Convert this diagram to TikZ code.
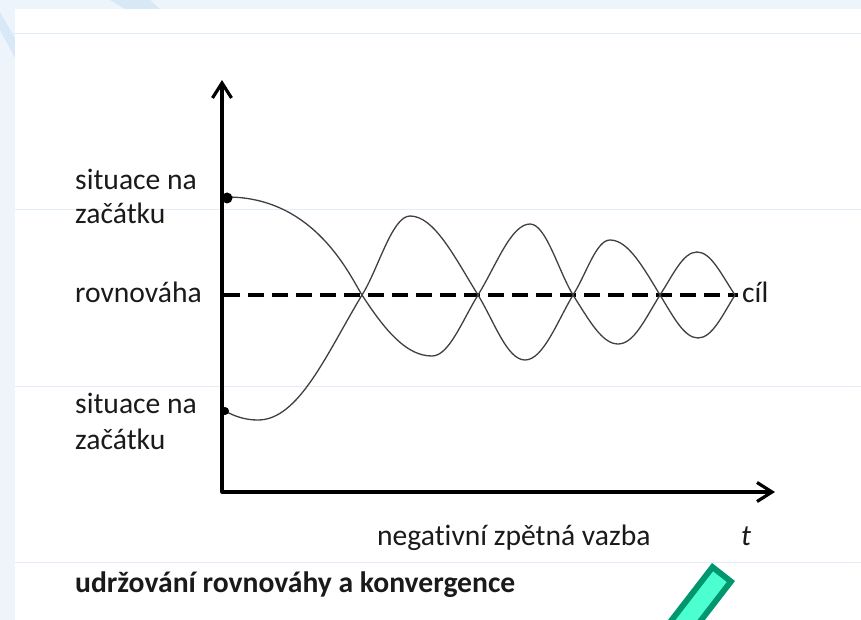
\documentclass[tikz,border=0pt]{standalone}
\usepackage{fontspec}
\setmainfont{Carlito}[Ligatures={NoCommon}]
\usetikzlibrary{arrows.meta}
\definecolor{bgblue}{HTML}{EDF4FC}
\definecolor{bgstreak}{HTML}{D9E8F6}
\definecolor{rulecol}{HTML}{E2EDF8}
\definecolor{curvecol}{HTML}{404040}
\definecolor{penedge}{HTML}{00966E}
\definecolor{penfill}{HTML}{4CFFD0}
\definecolor{txt}{HTML}{1A1A1A}
\begin{document}
\begin{tikzpicture}[x=1pt,y=-1pt,
  lbl/.style={anchor=base west, inner sep=0pt, text=txt, font=\fontsize{29.6}{35}\selectfont},
  axisline/.style={line width=3.2pt, line join=round, {Straight Barb[length=15pt,width=19pt]}-{Straight Barb[length=15pt,width=19pt]}},
  osc/.style={draw=curvecol, line width=1.3pt},
  goal/.style={line width=4pt, dash pattern=on 16pt off 8pt},
  dot/.style={circle, fill=black, inner sep=0pt},
  faintrule/.style={draw=rulecol, line width=1pt}]
\useasboundingbox (0,0) rectangle (861,620);
% background
\fill[bgblue] (0,0) rectangle (861,620);
\fill[bgstreak] (0,12) -- (15,38) -- (15,58) -- (0,30) -- cycle;
\fill[bgstreak] (110,0) -- (150,0) -- (160,9) -- (125,9) -- cycle;
\fill[white] (15,9) rectangle (861,620);
\draw[faintrule] (10,34) -- (861,34);
\draw[faintrule] (15,210) -- (861,210);
\draw[faintrule] (15,386) -- (861,386);
\draw[faintrule] (15,562) -- (861,562);

% axes
\coordinate (O) at (222,492);
\coordinate (Ytop) at (222,80);
\coordinate (Xend) at (775,492);
\draw[axisline] (Ytop) -- (O) -- (Xend);

% goal line
\coordinate (g0) at (224,295);
\coordinate (g1) at (738,295);
\draw[goal] (g0) -- (g1);

% oscillating curves
\draw[osc] (227,197) .. controls (315,197) and (350,276) .. (362,295)
 .. controls (386,332) and (407,356) .. (432,356)
 .. controls (449,356) and (462,321) .. (478,295)
 .. controls (496,266) and (511,224) .. (530,224)
 .. controls (546,224) and (558,270) .. (573,295)
 .. controls (589,320) and (602,344) .. (618,344)
 .. controls (634,344) and (645,319) .. (660,295)
 .. controls (673,275) and (683,252) .. (697,252)
 .. controls (711,252) and (721,274) .. (735,295);
\draw[osc] (225,411) .. controls (236,417) and (246,420) .. (258,420)
 .. controls (299,420) and (327,353) .. (362,295)
 .. controls (378,270) and (392,216) .. (410,216)
 .. controls (434,216) and (454,256) .. (478,295)
 .. controls (494,321) and (507,360) .. (525,360)
 .. controls (543,360) and (557,322) .. (573,295)
 .. controls (586,275) and (596,240) .. (610,240)
 .. controls (628,240) and (643,267) .. (660,295)
 .. controls (673,316) and (684,338) .. (698,338)
 .. controls (712,338) and (722,316) .. (735,295);

% start dots
\node[dot, minimum size=11pt] (d1) at (227,198) {};
\node[dot, minimum size=8pt] (d2) at (225,411) {};

% labels
\node[lbl] (s1a) at (75,190) {situace na};
\node[lbl] (s1b) at (75,224) {začátku};
\node[lbl] (rov) at (75,302) {rovnováha};
\node[lbl] (s2a) at (75,413) {situace na};
\node[lbl] (s2b) at (75,449) {začátku};
\node[lbl] (cil) at (742,302) {cíl};
\node[lbl] (neg) at (377,545) {negativní zpětná vazba};
\node[lbl, font=\fontsize{29.6}{35}\selectfont\itshape] (tlab) at (741,545) {t};
\node[lbl, font=\fontsize{29.6}{35}\selectfont\bfseries] (ud) at (75,592) {udržování rovnováhy a konvergence};

% green pen mark
\begin{scope}
\clip (0,0) rectangle (861,620);
\fill[penedge] (712,563) -- (735,581) -- (674,660) -- (651,642) -- cycle;
\fill[penfill] (713.1,571.4) -- (726.6,582.05) -- (665.5,661.25) -- (652,650.6) -- cycle;
\end{scope}
\end{tikzpicture}
\end{document}
